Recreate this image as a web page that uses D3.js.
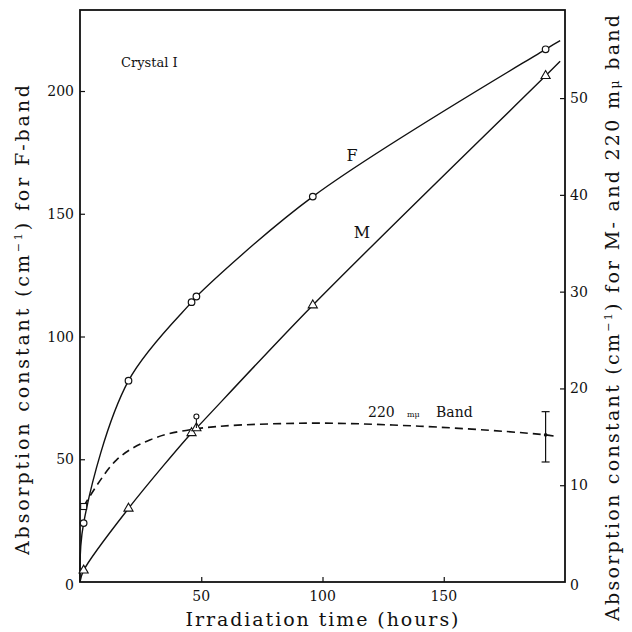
<!DOCTYPE html>
<html>
<head>
<meta charset="utf-8">
<script src="https://cdn.jsdelivr.net/npm/d3@7"></script>
<style>
  html, body { margin: 0; padding: 0; background: #fff; }
  svg { display: block; }
  text { font-family: "DejaVu Serif", "Liberation Serif", serif; fill: #111; }
</style>
</head>
<body>
<div id="chart"></div>
<script>
// F-band (left axis), circles
var fTimes = [1.5, 20, 46, 48, 96, 192];
var fValues = [24, 82, 114, 116.3, 157, 217];
// M-band (right axis), triangles
var mTimes = [1.5, 20, 46, 48, 96, 192];
var mValues = [1.2, 7.6, 15.4, 15.9, 28.6, 52.3];
// 220 m-mu band (right axis), dashed curve
var bandTimes = [1.5, 15, 29, 47, 90, 140, 192, 197];
var bandValues = [7.8, 12.6, 14.7, 15.8, 16.4, 16.1, 15.2, 15.0];
// extra 220 band reading at 48 h (small circle)
var bandMarkTime = [48];
var bandMarkValue = [17.1];
// error bar on the last 220 band point
var errTime = [192];
var errValue = [15.2];
var errLow = [12.4];
var errHigh = [17.6];
// curve ends past the last points
var fEnd = [198, 220.5];
var mEnd = [198, 53.8];
var xTicks = [50, 100, 150];
var leftTicks = [0, 50, 100, 150, 200];
var rightTicks = [0, 10, 20, 30, 40, 50];

var width = 632, height = 632;
var plotLeft = 80, plotRight = 565, plotTop = 10, plotBottom = 582;

var svg = d3.select('#chart').append('svg')
  .attr('width', width)
  .attr('height', height);

var x = d3.scaleLinear().domain([0, 200]).range([plotLeft, plotRight]);
var yL = d3.scaleLinear().domain([0, 233]).range([plotBottom, plotTop]);
var yR = d3.scaleLinear().domain([0, 59.1]).range([plotBottom, plotTop]);

// frame
svg.append('rect')
  .attr('x', plotLeft).attr('y', plotTop)
  .attr('width', plotRight - plotLeft).attr('height', plotBottom - plotTop)
  .attr('fill', 'none').attr('stroke', '#111').attr('stroke-width', 1.8);

// axes, ticks inward
var xAxis = svg.append('g').attr('transform', 'translate(0,' + plotBottom + ')')
  .call(d3.axisTop(x).tickValues(xTicks).tickSize(5).tickFormat(''));
xAxis.select('.domain').remove();
svg.selectAll('.xlab').data(xTicks).enter().append('text')
  .attr('x', function(d) { return x(d); })
  .attr('y', 601)
  .attr('text-anchor', 'middle')
  .style('font-size', '14px')
  .text(function(d) { return d; });

var lAxis = svg.append('g').attr('transform', 'translate(' + plotLeft + ',0)')
  .call(d3.axisRight(yL).tickValues(leftTicks.slice(1)).tickSize(5).tickFormat(''));
lAxis.select('.domain').remove();
svg.selectAll('.llab').data(leftTicks).enter().append('text')
  .attr('x', 74)
  .attr('y', function(d) { return yL(d) + (d === 0 ? 8 : 5); })
  .attr('text-anchor', 'end')
  .style('font-size', '14px')
  .text(function(d) { return d; });

var rAxis = svg.append('g').attr('transform', 'translate(' + plotRight + ',0)')
  .call(d3.axisLeft(yR).tickValues(rightTicks.slice(1)).tickSize(5).tickFormat(''));
rAxis.select('.domain').remove();
svg.selectAll('.rlab').data(rightTicks).enter().append('text')
  .attr('x', 570)
  .attr('y', function(d) { return yR(d) + (d === 0 ? 8 : 5); })
  .attr('text-anchor', 'start')
  .style('font-size', '14px')
  .text(function(d) { return d; });
svg.selectAll('.tick line').attr('stroke', '#111').attr('stroke-width', 1.2);

// curves
var fLine = d3.line()
  .x(function(d) { return x(d[0]); })
  .y(function(d) { return yL(d[1]); })
  .curve(d3.curveCatmullRom.alpha(0.5));
var rLine = d3.line()
  .x(function(d) { return x(d[0]); })
  .y(function(d) { return yR(d[1]); })
  .curve(d3.curveCatmullRom.alpha(0.5));

var fPts = [[0, 0]].concat(fTimes.map(function(t, i) { return [t, fValues[i]]; }), [fEnd]);
var mPts = [[0, 0]].concat(mTimes.map(function(t, i) { return [t, mValues[i]]; }), [mEnd]);
var bPts = bandTimes.map(function(t, i) { return [t, bandValues[i]]; });

svg.append('path').attr('d', fLine(fPts))
  .attr('fill', 'none').attr('stroke', '#111').attr('stroke-width', 1.4);
svg.append('path').attr('d', rLine(mPts))
  .attr('fill', 'none').attr('stroke', '#111').attr('stroke-width', 1.4);
svg.append('path').attr('d', rLine(bPts))
  .attr('fill', 'none').attr('stroke', '#111').attr('stroke-width', 1.6)
  .attr('stroke-dasharray', '8,5');

// markers
svg.selectAll('.fpt').data(fTimes).enter().append('circle')
  .attr('cx', function(d) { return x(d); })
  .attr('cy', function(d, i) { return yL(fValues[i]); })
  .attr('r', 3.3)
  .attr('fill', '#fff').attr('stroke', '#111').attr('stroke-width', 1.2);

var tri = d3.symbol().type(d3.symbolTriangle).size(36);
svg.selectAll('.mpt').data(mTimes).enter().append('path')
  .attr('d', tri)
  .attr('transform', function(d, i) { return 'translate(' + x(d) + ',' + yR(mValues[i]) + ')'; })
  .attr('fill', '#fff').attr('stroke', '#111').attr('stroke-width', 1.1);

svg.append('rect')
  .attr('x', x(bandTimes[0]) - 3).attr('y', yR(bandValues[0]) - 3)
  .attr('width', 6).attr('height', 6)
  .attr('fill', '#fff').attr('stroke', '#111').attr('stroke-width', 1.1);

bandMarkTime.forEach(function(t, i) {
  svg.append('line').attr('x1', x(t)).attr('x2', x(t))
    .attr('y1', yR(bandMarkValue[i])).attr('y2', yR(mValues[3]))
    .attr('stroke', '#111').attr('stroke-width', 1.1);
  svg.append('circle').attr('cx', x(t)).attr('cy', yR(bandMarkValue[i])).attr('r', 2.5)
    .attr('fill', '#fff').attr('stroke', '#111').attr('stroke-width', 1.1);
});

// error bar
errTime.forEach(function(t, i) {
  var cx = x(t);
  svg.append('line').attr('x1', cx).attr('x2', cx)
    .attr('y1', yR(errLow[i])).attr('y2', yR(errHigh[i]))
    .attr('stroke', '#111').attr('stroke-width', 1.2);
  [errLow[i], errHigh[i]].forEach(function(v) {
    svg.append('line').attr('x1', cx - 4).attr('x2', cx + 4)
      .attr('y1', yR(v)).attr('y2', yR(v))
      .attr('stroke', '#111').attr('stroke-width', 1.2);
  });
  svg.append('circle').attr('cx', cx).attr('cy', yR(errValue[i])).attr('r', 1.8).attr('fill', '#111');
});

// labels in plot
svg.append('text').attr('x', 121).attr('y', 67).style('font-size', '13px').text('Crystal I');
svg.append('text').attr('x', 352).attr('y', 161).attr('text-anchor', 'middle').style('font-size', '16px').text('F');
svg.append('text').attr('x', 362).attr('y', 238).attr('text-anchor', 'middle').style('font-size', '16px').text('M');
var band = svg.append('text').attr('y', 417).style('font-size', '14px');
band.append('tspan').attr('x', 368).text('220');
band.append('tspan').attr('x', 407).style('font-size', '8px').text('mμ');
band.append('tspan').attr('x', 436).text('Band');

// axis titles
svg.append('text').attr('x', 322).attr('y', 626)
  .attr('text-anchor', 'middle').attr('textLength', 273).attr('lengthAdjust', 'spacing')
  .style('font-size', '19px').text('Irradiation time (hours)');

var lt = svg.append('text')
  .attr('transform', 'translate(29,320) rotate(-90)')
  .attr('text-anchor', 'middle').attr('textLength', 470).attr('lengthAdjust', 'spacing')
  .style('font-size', '19px');
lt.append('tspan').text('Absorption constant (cm');
lt.append('tspan').attr('dy', -7).style('font-size', '11px').text('−1');
lt.append('tspan').attr('dy', 7).text(') for F-band');

var rt = svg.append('text')
  .attr('transform', 'translate(619,318) rotate(-90)')
  .attr('text-anchor', 'middle').attr('textLength', 606).attr('lengthAdjust', 'spacing')
  .style('font-size', '19px');
rt.append('tspan').text('Absorption constant (cm');
rt.append('tspan').attr('dy', -7).style('font-size', '11px').text('−1');
rt.append('tspan').attr('dy', 7).text(') for M- and 220 m');
rt.append('tspan').style('font-size', '13px').text('μ');
rt.append('tspan').text(' band');
</script>
</body>
</html>
